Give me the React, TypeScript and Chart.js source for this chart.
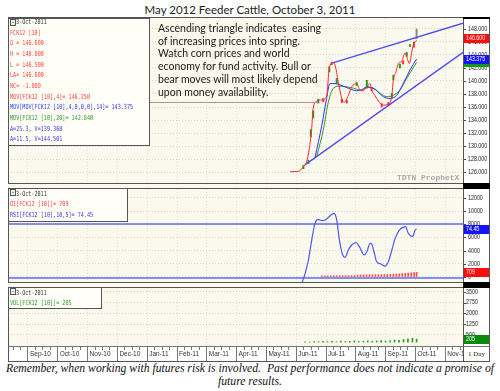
import React, { useEffect, useRef } from "react";
import { Chart, registerables } from "chart.js";

Chart.register(...registerables);

// ---------------- data ----------------
// x values are months counted from the "Sep-10" axis mark (0 = Sep-10, 12 = Sep-11)
const X_MIN = -0.671;
const X_MAX = 14.597;
const MONTH_LABELS = ["Sep-10", "Oct-10", "Nov-10", "Dec-10", "Jan-11", "Feb-11", "Mar-11", "Apr-11", "May-11", "Jun-11", "Jul-11", "Aug-11", "Sep-11", "Oct-11", "Nov-11"];

const PRICE_TICKS = [126, 128, 130, 132, 134, 136, 138, 140, 142, 144, 146, 148];
const OI_TICKS = [0, 2000, 4000, 6000, 8000, 10000, 12000];
const VOL_TICKS = [500, 1250, 2000, 2750, 3500];

// 4-day moving average (red)
const MOV4_X = [8.79, 9.07, 9.24, 9.35, 9.44, 9.52, 9.57, 9.69, 9.86, 10.02, 10.11, 10.23, 10.3, 10.41, 10.53, 10.61, 10.75, 10.86, 11.03, 11.14, 11.25, 11.37, 11.48, 11.53, 11.64, 11.76, 11.92, 12.09, 12.21, 12.26, 12.35, 12.43, 12.54, 12.65, 12.71, 12.8, 12.88, 12.93, 13.04];
const MOV4_Y = [126.05, 126.1, 126.8, 127.6, 129.6, 132.7, 135.8, 136.9, 137.1, 137.6, 142.0, 142.8, 142.5, 139.9, 137.3, 136.7, 137.8, 139.1, 139.6, 138.6, 138.5, 139.1, 139.6, 138.6, 137.8, 136.9, 136.3, 136.4, 137.8, 140.2, 141.4, 142.7, 143.0, 144.3, 143.7, 142.7, 144.5, 145.5, 146.25];
// 14-period average of the 4-day average (blue)
const MOV14_X = [9.63, 9.86, 10.02, 10.13, 10.3, 10.47, 10.64, 10.85, 11.03, 11.2, 11.37, 11.53, 11.7, 11.92, 12.15, 12.37, 12.59, 12.82, 13.04];
const MOV14_Y = [128.2, 133.2, 137.3, 139.6, 139.6, 139.4, 139.1, 138.7, 138.5, 138.6, 139.1, 139.0, 138.5, 137.6, 137.3, 137.8, 139.6, 141.7, 143.375];
// 20-day moving average (green)
const MOV20_X = [9.69, 9.91, 10.08, 10.25, 10.47, 10.7, 10.92, 11.14, 11.37, 11.59, 11.81, 12.04, 12.26, 12.48, 12.71, 12.88, 13.04];
const MOV20_Y = [128.4, 132.5, 136.8, 138.9, 139.2, 139.1, 138.9, 138.6, 139.0, 138.9, 138.1, 137.6, 137.8, 138.6, 140.4, 141.7, 142.84];

// ascending triangle trend lines
const TREND_LOWER_X = [9.295, 14.597];
const TREND_LOWER_Y = [127.1, 144.4];
const TREND_UPPER_X = [10.225, 14.597];
const TREND_UPPER_Y = [142.8, 148.9];

// daily price bars (low/high)
const BAR_X = [9.24, 9.41, 9.49, 9.57, 9.74, 9.91, 10.11, 10.19, 10.36, 10.53, 10.7, 11.03, 11.37, 11.53, 11.87, 12.09, 12.21, 12.26, 12.48, 12.59, 12.71, 12.82, 12.95, 13.04];
const BAR_LOW = [126.5, 127.3, 131.4, 134.3, 136.6, 136.8, 141.4, 142.5, 139.6, 136.7, 136.6, 139.3, 138.9, 138.5, 136.0, 136.2, 137.4, 140.2, 142.0, 142.6, 143.8, 145.3, 145.2, 146.5];
const BAR_HIGH = [127.0, 127.8, 132.5, 135.4, 137.2, 137.3, 142.2, 142.9, 140.4, 137.2, 137.0, 139.8, 140.1, 139.0, 136.5, 136.7, 138.1, 140.9, 142.6, 143.1, 144.4, 145.6, 146.0, 148.0];
const BAR_DIR = ["up", "up", "up", "up", "up", "down", "up", "down", "up", "down", "down", "up", "up", "down", "down", "down", "up", "up", "up", "down", "up", "up", "down", "last"];

// last bar summary
const LAST_OPEN = 146.6;
const LAST_HIGH = 148.0;
const LAST_LOW = 146.5;
const LAST_PRICE = 146.6;
const NET_CHANGE = -1.0;
const TREND_A = [25.3, 11.5];
const TREND_V = [139.368, 144.501];

// RSI
const RSI_X = [9.19, 9.3, 9.41, 9.52, 9.63, 9.74, 9.86, 9.97, 10.13, 10.27, 10.36, 10.45, 10.56, 10.64, 10.75, 10.86, 11.01, 11.12, 11.28, 11.37, 11.48, 11.53, 11.61, 11.7, 11.84, 11.98, 12.09, 12.21, 12.32, 12.46, 12.59, 12.67, 12.76, 12.91, 12.99, 13.04];
const RSI_Y = [14, 25.2, 40, 62.2, 80.7, 85.2, 83.7, 84.4, 88.9, 91.9, 84.4, 62.2, 45.6, 43, 51.1, 56.7, 59.3, 54.8, 45.6, 49.2, 58.5, 57.8, 49.2, 38.1, 35.6, 33.3, 38.1, 51.1, 64.1, 73.3, 76.3, 77, 69.7, 66.1, 73.3, 74.45];
const RSI_LEVELS = [80, 20];

// open interest
const OI_X = [9.86, 9.96, 10.06, 10.16, 10.26, 10.36, 10.46, 10.56, 10.66, 10.76, 10.86, 10.96, 11.06, 11.16, 11.26, 11.36, 11.46, 11.56, 11.66, 11.76, 11.86, 11.96, 12.06, 12.16, 12.26, 12.36, 12.46, 12.56, 12.66, 12.76, 12.86, 12.96, 13.04];
const OI_Y = [180, 185, 190, 190, 195, 200, 200, 205, 205, 210, 215, 220, 300, 310, 320, 330, 340, 345, 350, 355, 360, 370, 380, 390, 420, 450, 480, 520, 560, 600, 640, 680, 709];

// volume
const VOL_X = [9.3, 9.45, 9.6, 9.75, 9.9, 10.05, 10.2, 10.35, 10.5, 10.65, 10.8, 10.95, 11.1, 11.25, 11.4, 11.55, 11.7, 11.85, 12.0, 12.15, 12.3, 12.45, 12.6, 12.75, 12.9, 13.04];
const VOL_Y = [15, 10, 40, 25, 60, 30, 45, 20, 70, 35, 55, 80, 40, 65, 90, 50, 75, 110, 60, 95, 140, 120, 180, 230, 260, 205];

// ---------------- styling / helpers ----------------
const CREAM = "#fbf9ee";
const LEG_RED = "#ff4545";
const LEG_BLUE = "#3838ee";
const LEG_GREEN = "#2e9a2e";

const pts = (xs: number[], ys: number[]) => xs.map((x, i) => ({ x, y: ys[i] }));
const last = (a: number[]) => a[a.length - 1];

const backgroundPlugin = {
  id: "panelBackground",
  beforeDraw(chart: any) {
    const { ctx, chartArea, width, height } = chart;
    ctx.save();
    ctx.fillStyle = "#ffffff";
    ctx.fillRect(0, 0, width, height);
    ctx.fillStyle = CREAM;
    ctx.fillRect(chartArea.left, chartArea.top, chartArea.right - chartArea.left, chartArea.bottom - chartArea.top);
    ctx.restore();
  },
};

function squeezeText(ctx: CanvasRenderingContext2D, text: string, x: number, y: number, color: string) {
  ctx.save();
  ctx.translate(x, y);
  ctx.scale(0.76, 1);
  ctx.fillStyle = color;
  ctx.fillText(text, 0, 0);
  ctx.restore();
}

const axisLabelPlugin = {
  id: "axisLabels",
  afterDraw(chart: any, _args: any, opts: any) {
    const { ctx, chartArea } = chart;
    const scale = chart.scales.y;
    const right = chartArea.right;
    ctx.save();
    ctx.font = '7px "Liberation Sans", Arial, sans-serif';
    ctx.textBaseline = "middle";
    ctx.textAlign = "left";
    ctx.strokeStyle = "#444";
    ctx.lineWidth = 1;
    for (const t of scale.ticks) {
      const y = scale.getPixelForValue(t.value);
      const yy = Math.round(y) + 0.5;
      ctx.beginPath();
      ctx.moveTo(right, yy);
      ctx.lineTo(right + 3, yy);
      ctx.stroke();
      squeezeText(ctx, opts.format(t.value), right + opts.labelX, y, "#222");
    }
    for (const b of opts.boxes as any[]) {
      const sc = chart.scales[b.axis];
      const y = sc.getPixelForValue(b.value);
      ctx.fillStyle = b.color;
      ctx.fillRect(right + 1, Math.round(y - 4.5), chart.width - right - 2, 9);
      squeezeText(ctx, b.text, right + 3, y, "#ffffff");
    }
    ctx.restore();
  },
};

const MONTH_TICKS = MONTH_LABELS.map((_, i) => i);
const AXIS_TICKS: number[] = [];
for (let i = -2; i <= 58; i++) {
  const v = i / 4;
  if (v > X_MIN && v < X_MAX) AXIS_TICKS.push(v);
}

const hiddenX = () => ({
  type: "linear",
  axis: "x",
  min: X_MIN,
  max: X_MAX,
  offset: false,
  afterBuildTicks: (s: any) => {
    s.ticks = MONTH_TICKS.map((v) => ({ value: v }));
  },
  ticks: { display: false },
  grid: { drawTicks: false, color: "rgba(0,0,0,0.09)", offset: false },
  border: { display: false, dash: [1, 2] },
  afterFit: (s: any) => {
    s.height = 0;
  },
});

const rightY = (min: number, max: number, ticks: number[]) => ({
  type: "linear",
  axis: "y",
  position: "right",
  min,
  max,
  afterBuildTicks: (s: any) => {
    s.ticks = ticks.map((v) => ({ value: v }));
  },
  ticks: { display: false },
  grid: { drawTicks: false, color: "rgba(0,0,0,0.14)" },
  border: { display: false, dash: [1, 2] },
  afterFit: (s: any) => {
    s.width = 27;
  },
});

const baseOptions = {
  animation: false,
  responsive: false,
  maintainAspectRatio: false,
  layout: { padding: 0 },
  events: [],
};

const lineDs = (xs: number[], ys: number[], color: string, width: number, extra: any = {}) => ({
  type: "line",
  data: pts(xs, ys),
  borderColor: color,
  borderWidth: width,
  pointRadius: 0,
  fill: false,
  cubicInterpolationMode: "monotone",
  ...extra,
});

function priceConfig(): any {
  const barColor = (d: string) => (d === "up" ? "#1f9e1f" : d === "down" ? "#ff3030" : "#8a8a8a");
  return {
    type: "line",
    data: {
      datasets: [
        lineDs(MOV4_X, MOV4_Y, "#ff2a2a", 1),
        lineDs(MOV14_X, MOV14_Y, "#3030ff", 1),
        lineDs(MOV20_X, MOV20_Y, "#2a9a2a", 1),
        lineDs(TREND_LOWER_X, TREND_LOWER_Y, "#5050ee", 1.4, { cubicInterpolationMode: "default", tension: 0 }),
        lineDs(TREND_UPPER_X, TREND_UPPER_Y, "#5050ee", 1.4, { cubicInterpolationMode: "default", tension: 0 }),
        {
          type: "bar",
          data: BAR_X.map((x, i) => ({ x, y: [BAR_LOW[i], BAR_HIGH[i]] })),
          backgroundColor: BAR_DIR.map(barColor),
          barThickness: 1.3,
          borderWidth: 0,
        },
      ],
    },
    options: {
      ...baseOptions,
      plugins: {
        legend: { display: false },
        tooltip: { enabled: false },
        axisLabels: {
          labelX: 5,
          format: (v: number) => v.toFixed(3),
          boxes: [
            { axis: "y", value: last(MOV20_Y), color: "#139a13", text: last(MOV20_Y).toFixed(3) },
            { axis: "y", value: last(MOV14_Y), color: "#1414ff", text: last(MOV14_Y).toFixed(3) },
            { axis: "y", value: LAST_PRICE, color: "#ff0c0c", text: LAST_PRICE.toFixed(3) },
          ],
        },
      },
      scales: {
        x: hiddenX(),
        y: rightY(124.308, 149.692, PRICE_TICKS),
      },
    },
    plugins: [backgroundPlugin, axisLabelPlugin],
  };
}

function oiConfig(): any {
  return {
    type: "line",
    data: {
      datasets: [
        lineDs(RSI_X, RSI_Y, "#4a5af0", 1.2, { yAxisID: "yRsi" }),
        ...RSI_LEVELS.map((lvl) =>
          lineDs([X_MIN, X_MAX], [lvl, lvl], "#5a6af2", 1.5, { yAxisID: "yRsi", cubicInterpolationMode: "default", tension: 0 })
        ),
        {
          type: "bar",
          yAxisID: "y",
          data: pts(OI_X, OI_Y),
          backgroundColor: "#ff4a4a",
          barThickness: 1,
          borderWidth: 0,
        },
      ],
    },
    options: {
      ...baseOptions,
      plugins: {
        legend: { display: false },
        tooltip: { enabled: false },
        axisLabels: {
          labelX: 5,
          format: (v: number) => String(v),
          boxes: [
            { axis: "y", value: last(OI_Y), color: "#ff0c0c", text: String(last(OI_Y)) },
            { axis: "yRsi", value: last(RSI_Y), color: "#1414ff", text: last(RSI_Y).toFixed(2) },
          ],
        },
      },
      scales: {
        x: hiddenX(),
        y: rightY(-759.5, 13367, OI_TICKS),
        yRsi: { type: "linear", axis: "y", position: "right", display: false, min: 15.56, max: 118.9 },
      },
    },
    plugins: [backgroundPlugin, axisLabelPlugin],
  };
}

function volConfig(): any {
  const isMonth = (v: number) => Number.isInteger(v);
  return {
    type: "bar",
    data: {
      datasets: [
        {
          type: "bar",
          data: pts(VOL_X, VOL_Y),
          backgroundColor: "#2a9a2a",
          barThickness: 1,
          borderWidth: 0,
        },
      ],
    },
    options: {
      ...baseOptions,
      plugins: {
        legend: { display: false },
        tooltip: { enabled: false },
        axisLabels: {
          labelX: 3,
          format: (v: number) => String(v),
          boxes: [{ axis: "y", value: last(VOL_Y), color: "#0a8a0a", text: String(last(VOL_Y)) }],
        },
      },
      scales: {
        x: {
          type: "linear",
          axis: "x",
          position: "bottom",
          min: X_MIN,
          max: X_MAX,
          offset: false,
          afterBuildTicks: (s: any) => {
            s.ticks = AXIS_TICKS.map((v) => ({ value: v }));
          },
          ticks: {
            autoSkip: false,
            maxRotation: 0,
            minRotation: 0,
            align: "start",
            labelOffset: 2,
            padding: -12,
            color: "#333",
            font: { size: 6.5, family: '"Liberation Sans", Arial, sans-serif' },
            callback: (v: number) => (isMonth(v) ? MONTH_LABELS[v] : ""),
          },
          grid: {
            offset: false,
            drawTicks: true,
            tickLength: 16,
            color: (c: any) => (c.tick && isMonth(c.tick.value) ? "rgba(0,0,0,0.09)" : "rgba(0,0,0,0)"),
            tickColor: "#777",
            tickBorderDash: (c: any) => (c.tick && isMonth(c.tick.value) ? [] : [3, 40]),
          },
          border: { display: true, color: "#777", dash: [1, 2] },
          afterFit: (s: any) => {
            s.height = 16;
          },
        },
        y: rightY(-271, 3757, VOL_TICKS),
      },
    },
    plugins: [backgroundPlugin, axisLabelPlugin],
  };
}

// ---------------- html pieces ----------------
const MONO = '"DejaVu Sans Mono", "Liberation Mono", monospace';

function Mono({ text, color, x, yc }: { text: string; color: string; x: number; yc: number }) {
  return (
    <div
      style={{
        position: "absolute",
        left: x,
        top: yc - 5,
        height: 10,
        lineHeight: "10px",
        fontFamily: MONO,
        fontSize: 7,
        color,
        whiteSpace: "pre",
        transform: "scaleX(0.73)",
        transformOrigin: "0 50%",
      }}
    >
      {text}
    </div>
  );
}

function Icon({ x, y }: { x: number; y: number }) {
  return (
    <div
      style={{
        position: "absolute",
        left: x,
        top: y,
        width: 4,
        height: 5,
        border: "1px solid #555",
        background: "linear-gradient(#999,#999) center/2px 1px no-repeat, #eee",
      }}
    />
  );
}

type Line = { text: string; color: string };

function LegendBox({ left, top, width, height, firstY, step, lines }: { left: number; top: number; width: number; height: number; firstY: number; step: number; lines: Line[] }) {
  return (
    <>
      <div
        style={{
          position: "absolute",
          left,
          top,
          width,
          height,
          boxSizing: "border-box",
          border: "1px solid #555",
          background: "#fffef7",
        }}
      />
      <Icon x={left + 2} y={top + 1} />
      {lines.map((l, i) => (
        <Mono key={i} text={l.text} color={l.color} x={i === 0 ? left + 8 : left + 2} yc={firstY + i * step} />
      ))}
    </>
  );
}

const f3 = (v: number) => v.toFixed(3);

export default function App() {
  const refA = useRef<HTMLCanvasElement>(null);
  const refB = useRef<HTMLCanvasElement>(null);
  const refC = useRef<HTMLCanvasElement>(null);

  useEffect(() => {
    const charts = [
      new Chart(refA.current as HTMLCanvasElement, priceConfig()),
      new Chart(refB.current as HTMLCanvasElement, oiConfig()),
      new Chart(refC.current as HTMLCanvasElement, volConfig()),
    ];
    return () => charts.forEach((c) => c.destroy());
  }, []);

  const legendA: Line[] = [
    { text: "3-Oct-2011", color: "#333" },
    { text: "FCK12 [10]", color: LEG_RED },
    { text: `O = ${f3(LAST_OPEN)}`, color: LEG_RED },
    { text: `H = ${f3(LAST_HIGH)}`, color: LEG_RED },
    { text: `L = ${f3(LAST_LOW)}`, color: LEG_RED },
    { text: `LA= ${f3(LAST_PRICE)}`, color: LEG_RED },
    { text: `NC= ${f3(NET_CHANGE)}`, color: LEG_RED },
    { text: `MOV[FCK12 [10],4]= ${f3(last(MOV4_Y))}`, color: LEG_RED },
    { text: `MOV[MOV[FCK12 [10],4,0,0,0],14]= ${f3(last(MOV14_Y))}`, color: LEG_BLUE },
    { text: `MOV[FCK12 [10],20]= ${f3(last(MOV20_Y))}`, color: LEG_GREEN },
    { text: `A=${TREND_A[0]}, V=${f3(TREND_V[0])}`, color: LEG_BLUE },
    { text: `A=${TREND_A[1]}, V=${f3(TREND_V[1])}`, color: LEG_BLUE },
  ];
  const legendB: Line[] = [
    { text: "3-Oct-2011", color: "#333" },
    { text: `OI[FCK12 [10]]= ${last(OI_Y)}`, color: LEG_RED },
    { text: `RSI[FCK12 [10],10,5]= ${last(RSI_Y).toFixed(2)}`, color: LEG_BLUE },
  ];
  const legendC: Line[] = [
    { text: "3-Oct-2011", color: "#333" },
    { text: `VOL[FCK12 [10]]= ${last(VOL_Y)}`, color: LEG_GREEN },
  ];

  const abs = (s: React.CSSProperties): React.CSSProperties => ({ position: "absolute", ...s });

  return (
    <div style={{ position: "absolute", left: 0, top: 0, width: 500, height: 391, background: "#fff", overflow: "hidden" }}>
      <div
        style={abs({
          left: 0,
          top: 2,
          width: 500,
          textAlign: "center",
          fontFamily: "Lato, 'Open Sans', sans-serif",
          fontSize: 11.5,
          lineHeight: "15px",
          color: "#222",
          whiteSpace: "nowrap",
        })}
      >
        May 2012 Feeder Cattle, October 3, 2011
      </div>

      <canvas ref={refA} width={482} height={165} style={abs({ left: 8, top: 18 })} />
      <canvas ref={refB} width={482} height={93} style={abs({ left: 8, top: 189 })} />
      <canvas ref={refC} width={482} height={74} style={abs({ left: 8, top: 288 })} />

      {/* frame and separators */}
      <div style={abs({ left: 8, top: 17, width: 482, height: 345, boxSizing: "border-box", border: "1px solid #555" })} />
      <div style={abs({ left: 463, top: 17, width: 1, height: 345, background: "#555" })} />
      <div style={abs({ left: 463, top: 17, width: 27, height: 2, background: "#000" })} />
      <div style={abs({ left: 8, top: 183, width: 455, height: 6, boxSizing: "border-box", borderTop: "1px solid #555", borderBottom: "1px solid #555", background: CREAM })} />
      <div style={abs({ left: 463, top: 183, width: 27, height: 6, background: "#000" })} />
      <div style={abs({ left: 8, top: 282, width: 455, height: 6, boxSizing: "border-box", borderTop: "1px solid #555", borderBottom: "1px solid #555", background: CREAM })} />
      <div style={abs({ left: 463, top: 282, width: 27, height: 6, background: "#000" })} />
      <div
        style={abs({
          left: 463,
          top: 346,
          width: 27,
          height: 16,
          boxSizing: "border-box",
          borderTop: "1px solid #777",
          borderLeft: "1px solid #555",
          borderRight: "1px solid #555",
          borderBottom: "1px solid #555",
          background: "#fff",
          fontFamily: "'Liberation Serif', serif",
          fontSize: 7,
          lineHeight: "14px",
          textAlign: "center",
          color: "#222",
        })}
      >
        1 Day
      </div>

      {/* annotation */}
      <div style={abs({ left: 148, top: 18, width: 170, height: 85, boxSizing: "border-box", borderLeft: "1px solid #8a8a8a", borderBottom: "1px solid #9a9a9a" })} />
      <div
        style={abs({
          left: 158,
          top: 22,
          fontFamily: "Lato, 'Open Sans', sans-serif",
          fontSize: 10.5,
          lineHeight: "12.7px",
          color: "#1a1a1a",
          whiteSpace: "pre",
        })}
      >
        {"Ascending triangle indicates  easing\nof increasing prices into spring.\nWatch corn prices and world\neconomy for fund activity. Bull or\nbear moves will most likely depend\nupon money availability."}
      </div>

      <div style={abs({ left: 397, top: 173, fontFamily: "'Liberation Mono', monospace", fontWeight: "bold", fontSize: 8, lineHeight: "10px", color: "#aaa", whiteSpace: "pre" })}>
        TDTN ProphetX
      </div>

      <LegendBox left={8} top={18} width={142} height={128} firstY={22} step={10.66} lines={legendA} />
      <LegendBox left={8} top={188} width={120} height={34} firstY={194} step={10.4} lines={legendB} />
      <LegendBox left={8} top={287} width={94} height={22} firstY={292.5} step={10.8} lines={legendC} />

      <div
        style={abs({
          left: 0,
          top: 363,
          width: 500,
          textAlign: "center",
          fontFamily: "'Liberation Serif', 'Times New Roman', serif",
          fontStyle: "italic",
          fontSize: 11.7,
          lineHeight: "12.5px",
          color: "#111",
          whiteSpace: "pre",
        })}
      >
        {"Remember, when working with futures risk is involved.  Past performance does not indicate a promise of\nfuture results."}
      </div>
    </div>
  );
}
